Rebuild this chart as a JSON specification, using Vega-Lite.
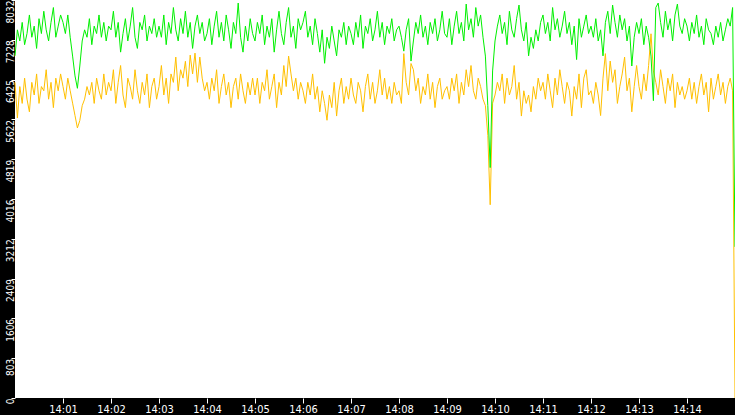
{
"$schema": "https://vega.github.io/schema/vega-lite/v6.json",
"width": 720,
"height": 398,
"autosize": {"type": "none"},
"padding": {"left": 15, "top": 0, "right": 0, "bottom": 17},
"background": "black",
"config": {"view": {"fill": "white", "stroke": null},
  "axisY": {"title": null, "grid": false, "domain": false, "tickColor": "white", "tickSize": 4, "tickWidth": 1,
            "labelColor": "white", "labelFont": "DejaVu Sans Condensed", "labelFontSize": 10,
            "labelAngle": 270, "labelAlign": "right", "labelBaseline": "alphabetic",
            "labelPadding": -2, "labelOverlap": false, "labelBound": false, "labelFlush": false},
  "axisX": {"title": null, "grid": false, "domain": false, "tickColor": "white", "tickSize": 5, "tickWidth": 1,
            "labelColor": "white", "labelFont": "DejaVu Sans Condensed", "labelFontSize": 11,
            "labelPadding": 0, "labelOverlap": false, "labelBound": false, "labelFlush": false}},
"data": {"values": [
{"t":0,"g":6905,"o":6370},{"t":3,"g":7430,"o":5650},{"t":6,"g":7205,"o":6285},{"t":9,"g":7580,"o":5945},{"t":12,"g":7130,"o":6455},{"t":15,"g":7355,"o":6030},{"t":18,"g":7730,"o":5775},{"t":21,"g":7280,"o":6370},{"t":24,"g":7505,"o":6115},{"t":27,"g":7055,"o":6540},{"t":30,"g":7655,"o":5945},{"t":33,"g":7355,"o":6285},{"t":36,"g":7805,"o":6200},{"t":39,"g":7430,"o":6625},{"t":42,"g":7205,"o":6030},{"t":45,"g":7580,"o":6370},{"t":48,"g":7880,"o":5860},{"t":51,"g":7280,"o":6455},{"t":54,"g":7505,"o":6200},{"t":57,"g":7730,"o":6540},
{"t":60,"g":7580,"o":6285},{"t":63,"g":7355,"o":6030},{"t":66,"g":7730,"o":6455},{"t":69,"g":7280,"o":6200},{"t":72,"g":6900,"o":5950},{"t":75,"g":6500,"o":5700},{"t":78,"g":6250,"o":5450},{"t":81,"g":6700,"o":5600},{"t":84,"g":7205,"o":5900},{"t":87,"g":7430,"o":6030},{"t":90,"g":7280,"o":6285},{"t":93,"g":7655,"o":6115},{"t":96,"g":7130,"o":6370},{"t":99,"g":7505,"o":5945},{"t":102,"g":7355,"o":6455},{"t":105,"g":7730,"o":6200},{"t":108,"g":7280,"o":6030},{"t":111,"g":7580,"o":6540},{"t":114,"g":7205,"o":6115},{"t":117,"g":7505,"o":6370},
{"t":120,"g":7430,"o":6200},{"t":123,"g":7805,"o":6625},{"t":126,"g":7280,"o":5945},{"t":129,"g":7580,"o":6370},{"t":132,"g":6980,"o":6710},{"t":135,"g":7355,"o":6115},{"t":138,"g":7655,"o":5860},{"t":141,"g":7205,"o":6455},{"t":144,"g":7505,"o":6285},{"t":147,"g":7880,"o":6030},{"t":150,"g":7280,"o":6625},{"t":153,"g":7055,"o":6200},{"t":156,"g":7580,"o":5945},{"t":159,"g":7430,"o":6370},{"t":162,"g":7730,"o":6115},{"t":165,"g":7205,"o":6540},{"t":168,"g":7505,"o":5860},{"t":171,"g":7355,"o":6285},{"t":174,"g":7655,"o":6455},{"t":177,"g":7280,"o":6030},
{"t":180,"g":7505,"o":6285},{"t":183,"g":7280,"o":6710},{"t":186,"g":7730,"o":6115},{"t":189,"g":7130,"o":6455},{"t":192,"g":7580,"o":5945},{"t":195,"g":7355,"o":6540},{"t":198,"g":7880,"o":6370},{"t":201,"g":7430,"o":6880},{"t":204,"g":7205,"o":6200},{"t":207,"g":7655,"o":6625},{"t":210,"g":7355,"o":6455},{"t":213,"g":7805,"o":6795},{"t":216,"g":7280,"o":6285},{"t":219,"g":7580,"o":6920},{"t":222,"g":7055,"o":6540},{"t":225,"g":7505,"o":6960},{"t":228,"g":7730,"o":6370},{"t":231,"g":7355,"o":6880},{"t":234,"g":7580,"o":6455},{"t":237,"g":7205,"o":6200},
{"t":240,"g":7355,"o":6370},{"t":243,"g":7655,"o":6030},{"t":246,"g":7130,"o":6455},{"t":249,"g":7505,"o":6200},{"t":252,"g":7805,"o":6625},{"t":255,"g":7280,"o":5945},{"t":258,"g":7580,"o":6285},{"t":261,"g":7205,"o":6540},{"t":264,"g":7730,"o":6115},{"t":267,"g":7430,"o":6370},{"t":270,"g":7055,"o":5860},{"t":273,"g":7580,"o":6285},{"t":276,"g":7355,"o":6455},{"t":279,"g":7970,"o":6030},{"t":282,"g":7280,"o":6540},{"t":285,"g":6980,"o":6200},{"t":288,"g":7505,"o":5945},{"t":291,"g":7205,"o":6370},{"t":294,"g":7655,"o":6115},{"t":297,"g":7355,"o":6455},
{"t":300,"g":7205,"o":6115},{"t":303,"g":7580,"o":6455},{"t":306,"g":7355,"o":5945},{"t":309,"g":7730,"o":6370},{"t":312,"g":7130,"o":6200},{"t":315,"g":7505,"o":6625},{"t":318,"g":7280,"o":6030},{"t":321,"g":7655,"o":6285},{"t":324,"g":6980,"o":6540},{"t":327,"g":7430,"o":5860},{"t":330,"g":7805,"o":6370},{"t":333,"g":7355,"o":6115},{"t":336,"g":7130,"o":6710},{"t":339,"g":7580,"o":6285},{"t":342,"g":7880,"o":6900},{"t":345,"g":7280,"o":6540},{"t":348,"g":7505,"o":6200},{"t":351,"g":7055,"o":6455},{"t":354,"g":7655,"o":6030},{"t":357,"g":7430,"o":6370},
{"t":360,"g":7580,"o":6200},{"t":363,"g":7805,"o":5945},{"t":366,"g":7280,"o":6370},{"t":369,"g":7505,"o":6115},{"t":372,"g":7130,"o":6540},{"t":375,"g":7655,"o":6030},{"t":378,"g":7355,"o":6285},{"t":381,"g":6980,"o":5775},{"t":384,"g":7430,"o":6200},{"t":387,"g":6755,"o":5945},{"t":390,"g":7280,"o":5605},{"t":393,"g":7055,"o":6115},{"t":396,"g":7505,"o":5860},{"t":399,"g":7205,"o":6370},{"t":402,"g":6905,"o":5690},{"t":405,"g":7430,"o":6200},{"t":408,"g":7280,"o":6455},{"t":411,"g":7580,"o":5945},{"t":414,"g":7130,"o":6285},{"t":417,"g":7505,"o":6030},
{"t":420,"g":7355,"o":6455},{"t":423,"g":7130,"o":6115},{"t":426,"g":7580,"o":5945},{"t":429,"g":7280,"o":6370},{"t":432,"g":7730,"o":6200},{"t":435,"g":7055,"o":5775},{"t":438,"g":7505,"o":6285},{"t":441,"g":7355,"o":6540},{"t":444,"g":7655,"o":6030},{"t":447,"g":7205,"o":6370},{"t":450,"g":7430,"o":5945},{"t":453,"g":7805,"o":6200},{"t":456,"g":7280,"o":6625},{"t":459,"g":7580,"o":6115},{"t":462,"g":7130,"o":6455},{"t":465,"g":7505,"o":6030},{"t":468,"g":7355,"o":6285},{"t":471,"g":7655,"o":5945},{"t":474,"g":7205,"o":6370},{"t":477,"g":7430,"o":6115},
{"t":480,"g":7505,"o":6200},{"t":483,"g":7280,"o":5945},{"t":486,"g":7000,"o":6950},{"t":489,"g":7430,"o":6370},{"t":492,"g":7655,"o":6115},{"t":495,"g":6800,"o":6750},{"t":498,"g":7205,"o":6625},{"t":501,"g":7580,"o":6200},{"t":504,"g":7355,"o":6455},{"t":507,"g":7730,"o":5945},{"t":510,"g":7280,"o":6285},{"t":513,"g":7505,"o":6115},{"t":516,"g":7130,"o":6540},{"t":519,"g":7580,"o":6030},{"t":522,"g":7355,"o":6370},{"t":525,"g":7655,"o":5860},{"t":528,"g":7205,"o":6285},{"t":531,"g":7430,"o":6455},{"t":534,"g":7805,"o":6030},{"t":537,"g":7355,"o":6200},
{"t":540,"g":7280,"o":6285},{"t":543,"g":7655,"o":6030},{"t":546,"g":7130,"o":6455},{"t":549,"g":7505,"o":6200},{"t":552,"g":7805,"o":6540},{"t":555,"g":7355,"o":5945},{"t":558,"g":7580,"o":6370},{"t":561,"g":7205,"o":6115},{"t":564,"g":7950,"o":6625},{"t":567,"g":7430,"o":6285},{"t":570,"g":7655,"o":6710},{"t":573,"g":7280,"o":6200},{"t":576,"g":7880,"o":6030},{"t":579,"g":7505,"o":6455},{"t":582,"g":7730,"o":6285},{"t":585,"g":7280,"o":6030},{"t":588,"g":6900,"o":5900},{"t":591,"g":5900,"o":5300},{"t":594,"g":4650,"o":3900},{"t":597,"g":6600,"o":5950},
{"t":600,"g":7205,"o":6115},{"t":603,"g":7505,"o":6370},{"t":606,"g":7730,"o":6200},{"t":609,"g":7355,"o":6540},{"t":612,"g":7580,"o":5945},{"t":615,"g":7130,"o":6455},{"t":618,"g":7805,"o":6115},{"t":621,"g":7430,"o":6285},{"t":624,"g":7280,"o":6710},{"t":627,"g":7655,"o":6030},{"t":630,"g":7930,"o":6370},{"t":633,"g":7430,"o":5690},{"t":636,"g":7205,"o":6200},{"t":639,"g":7580,"o":5945},{"t":642,"g":6905,"o":6115},{"t":645,"g":7280,"o":5775},{"t":648,"g":7055,"o":6285},{"t":651,"g":7430,"o":6030},{"t":654,"g":7205,"o":6455},{"t":657,"g":7580,"o":6200},
{"t":660,"g":7730,"o":6370},{"t":663,"g":7355,"o":6030},{"t":666,"g":7580,"o":6540},{"t":669,"g":7205,"o":6200},{"t":672,"g":7880,"o":5860},{"t":675,"g":7430,"o":6455},{"t":678,"g":7655,"o":6115},{"t":681,"g":7280,"o":6625},{"t":684,"g":7505,"o":6285},{"t":687,"g":7805,"o":5945},{"t":690,"g":7355,"o":6370},{"t":693,"g":7580,"o":6200},{"t":696,"g":7130,"o":5690},{"t":699,"g":7505,"o":6285},{"t":702,"g":6830,"o":6030},{"t":705,"g":7655,"o":6540},{"t":708,"g":7280,"o":5860},{"t":711,"g":7505,"o":6455},{"t":714,"g":7730,"o":6625},{"t":717,"g":7355,"o":6115},
{"t":720,"g":7505,"o":6200},{"t":723,"g":7280,"o":5945},{"t":726,"g":7655,"o":6370},{"t":729,"g":7205,"o":6115},{"t":732,"g":7430,"o":5700},{"t":735,"g":6905,"o":6455},{"t":738,"g":7580,"o":6950},{"t":741,"g":7805,"o":6200},{"t":744,"g":7355,"o":6800},{"t":747,"g":7930,"o":6370},{"t":750,"g":7580,"o":6625},{"t":753,"g":7280,"o":5945},{"t":756,"g":7730,"o":6285},{"t":759,"g":7430,"o":6540},{"t":762,"g":7655,"o":6880},{"t":765,"g":7205,"o":6200},{"t":768,"g":7505,"o":6455},{"t":771,"g":6700,"o":5775},{"t":774,"g":7280,"o":6285},{"t":777,"g":7580,"o":6710},
{"t":780,"g":7355,"o":6285},{"t":783,"g":7655,"o":6030},{"t":786,"g":7130,"o":6540},{"t":789,"g":7505,"o":6200},{"t":792,"g":7280,"o":6710},{"t":795,"g":6900,"o":7350},{"t":798,"g":6000,"o":6600},{"t":801,"g":7880,"o":6370},{"t":804,"g":7970,"o":6115},{"t":807,"g":7580,"o":6625},{"t":810,"g":7280,"o":6285},{"t":813,"g":7805,"o":5945},{"t":816,"g":7430,"o":6455},{"t":819,"g":7655,"o":6200},{"t":822,"g":7205,"o":6540},{"t":825,"g":7730,"o":5860},{"t":828,"g":7950,"o":6370},{"t":831,"g":7505,"o":6115},{"t":834,"g":7355,"o":6285},{"t":837,"g":7655,"o":6030},
{"t":840,"g":7505,"o":6200},{"t":843,"g":7205,"o":6455},{"t":846,"g":7580,"o":6030},{"t":849,"g":7355,"o":6370},{"t":852,"g":7730,"o":5945},{"t":855,"g":7280,"o":6285},{"t":858,"g":7505,"o":6540},{"t":861,"g":7130,"o":6115},{"t":864,"g":7655,"o":6370},{"t":867,"g":7430,"o":5775},{"t":870,"g":7355,"o":6455},{"t":873,"g":7130,"o":6030},{"t":876,"g":7505,"o":6285},{"t":879,"g":7280,"o":6540},{"t":882,"g":7580,"o":6115},{"t":885,"g":7205,"o":6370},{"t":888,"g":7430,"o":5945},{"t":891,"g":7655,"o":6285},{"t":894,"g":7505,"o":6455},{"t":897,"g":7880,"o":6200},
{"t":900,"g":3050,"o":0}
]},
"transform": [{"fold": ["o", "g"], "as": ["series", "v"]}],
"mark": {"type": "line", "strokeWidth": 1, "interpolate": "linear"},
"encoding": {
  "x": {"field": "t", "type": "quantitative",
        "scale": {"domain": [0, 900], "nice": false, "zero": false},
        "axis": {"values": [60,120,180,240,300,360,420,480,540,600,660,720,780,840],
                 "labelExpr": "'14:' + (datum.value < 600 ? '0' : '') + (datum.value / 60)"}},
  "y": {"field": "v", "type": "quantitative",
        "scale": {"domain": [0, 8032], "nice": false},
        "axis": {"values": [0,803,1606,2409,3212,4016,4819,5622,6425,7228,8032], "format": "d"}},
  "color": {"field": "series", "type": "nominal",
            "scale": {"domain": ["o", "g"], "range": ["#ffc000", "#00f000"]}, "legend": null}
}
}
